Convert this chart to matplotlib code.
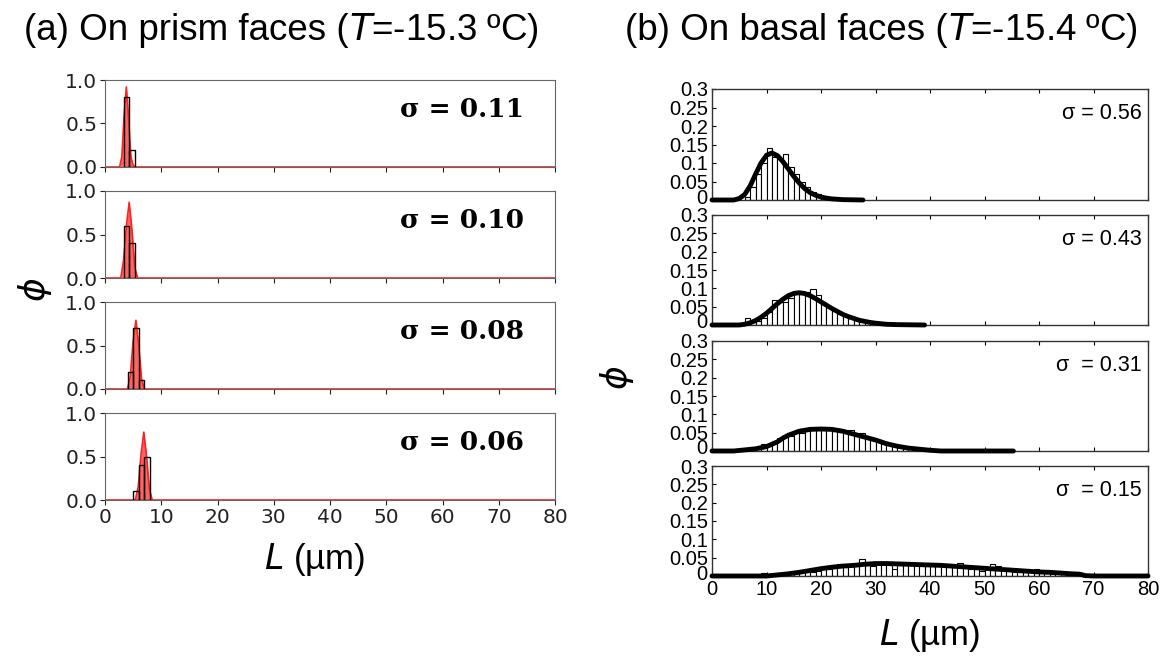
import matplotlib

matplotlib.use("Agg")
import matplotlib.pyplot as plt
import matplotlib.transforms as mtransforms
import numpy as np

# ---- (a) prism faces: histogram bins (left edge, height) and red fitted curves ----
prism_sigma = ["0.11", "0.10", "0.08", "0.06"]
prism_bin_left = [[3.3, 4.3], [3.3, 4.3], [4.0, 5.0, 6.0], [5.0, 6.0, 7.0]]
prism_bin_height = [[0.8, 0.2], [0.6, 0.4], [0.2, 0.7, 0.1], [0.1, 0.4, 0.5]]
prism_fit_x = [
    [0, 2.6, 3.0, 3.4, 3.8, 4.2, 4.6, 5.0, 5.4, 80],
    [0, 2.8, 3.3, 3.8, 4.3, 4.8, 5.3, 5.8, 80],
    [0, 4.0, 4.5, 5.0, 5.5, 6.0, 6.5, 7.0, 80],
    [0, 5.4, 5.9, 6.4, 6.9, 7.4, 7.9, 8.4, 80],
]
prism_fit_y = [
    [0, 0, 0.12, 0.6, 0.92, 0.55, 0.12, 0.02, 0, 0],
    [0, 0, 0.2, 0.6, 0.87, 0.55, 0.12, 0, 0],
    [0, 0, 0.15, 0.55, 0.79, 0.5, 0.12, 0, 0],
    [0, 0, 0.15, 0.52, 0.78, 0.5, 0.12, 0, 0],
]

# ---- (b) basal faces: 1-um histogram bins and black fitted curves ----
basal_sigma = ["\u03c3 = 0.56", "\u03c3 = 0.43", "\u03c3  = 0.31", "\u03c3  = 0.15"]
basal_bin_start = [6, 6, 5, 9]
basal_bin_height = [
    [0.008, 0.035, 0.07, 0.1, 0.14, 0.115, 0.113, 0.124, 0.09, 0.07, 0.05, 0.035,
     0.022, 0.015, 0.009, 0.006, 0.004],
    [0.02, 0.015, 0.012, 0.02, 0.035, 0.068, 0.064, 0.062, 0.075, 0.093, 0.085,
     0.09, 0.098, 0.083, 0.06, 0.05, 0.04, 0.03, 0.025, 0.02, 0.015, 0.012, 0.008,
     0.006, 0.005, 0.003, 0.002],
    [0.002, 0.003, 0.005, 0.01, 0.02, 0.015, 0.025, 0.035, 0.038, 0.042, 0.048,
     0.05, 0.055, 0.058, 0.058, 0.058, 0.057, 0.055, 0.052, 0.05, 0.057, 0.045,
     0.049, 0.035, 0.03, 0.025, 0.02, 0.018, 0.014, 0.012, 0.01, 0.008, 0.006,
     0.004, 0.003, 0.002],
    [0.008, 0.004, 0.003, 0.004, 0.004, 0.005, 0.007, 0.01, 0.017, 0.012, 0.015,
     0.018, 0.02, 0.022, 0.033, 0.025, 0.027, 0.028, 0.046, 0.03, 0.028, 0.034,
     0.032, 0.03, 0.02, 0.031, 0.03, 0.033, 0.03, 0.031, 0.03, 0.03, 0.028, 0.026,
     0.027, 0.026, 0.036, 0.025, 0.02, 0.018, 0.015, 0.02, 0.033, 0.028, 0.02,
     0.015, 0.012, 0.01, 0.012, 0.01, 0.02, 0.015, 0.008, 0.006, 0.007, 0.005,
     0.006, 0.004, 0.003],
]
basal_fit_x = [
    [0, 4, 5, 6, 7, 8, 9, 10, 11, 12, 13, 14, 15, 16, 17, 18, 19, 20, 21, 22, 24, 27.7],
    [0, 5, 6, 7, 8, 9, 10, 11, 12, 13, 14, 15, 16, 17, 18, 19, 20, 21, 22, 23, 24,
     25, 26, 27, 28, 29, 30, 32, 34, 39],
    [0, 4, 6, 8, 10, 12, 13, 14, 16, 18, 20, 22, 24, 26, 28, 30, 32, 34, 36, 38,
     40, 42, 55.3],
    [0, 10, 12, 14, 16, 18, 20, 22, 24, 26, 28, 30, 32, 34, 36, 38, 40, 42, 44, 46,
     48, 50, 52, 54, 56, 58, 60, 62, 64, 66, 67.5, 68.5, 70, 80],
]
basal_fit_y = [
    [0, 0, 0.004, 0.015, 0.038, 0.07, 0.1, 0.121, 0.127, 0.12, 0.104, 0.084, 0.064,
     0.046, 0.031, 0.02, 0.013, 0.008, 0.005, 0.003, 0.001, 0],
    [0, 0, 0.002, 0.006, 0.012, 0.021, 0.032, 0.045, 0.058, 0.07, 0.08, 0.086,
     0.088, 0.086, 0.08, 0.072, 0.063, 0.054, 0.045, 0.037, 0.029, 0.023, 0.018,
     0.013, 0.01, 0.007, 0.005, 0.002, 0.001, 0],
    [0, 0, 0.003, 0.006, 0.012, 0.025, 0.035, 0.043, 0.054, 0.059, 0.06, 0.059,
     0.054, 0.046, 0.038, 0.03, 0.02, 0.013, 0.008, 0.005, 0.002, 0, 0],
    [0, 0, 0.003, 0.006, 0.01, 0.015, 0.02, 0.024, 0.027, 0.029, 0.032, 0.034,
     0.034, 0.033, 0.032, 0.031, 0.03, 0.029, 0.027, 0.025, 0.023, 0.021, 0.019,
     0.017, 0.015, 0.013, 0.011, 0.01, 0.008, 0.006, 0.005, 0.001, 0, 0],
]

x_ticks = [0, 10, 20, 30, 40, 50, 60, 70, 80]

fig = plt.figure(figsize=(11.63, 6.59), dpi=100)
W, H = 1163, 659


def px_axes(x0, y_top, x1, y_bot):
    return fig.add_axes([x0 / W, 1 - y_bot / H, (x1 - x0) / W, (y_bot - y_top) / H])


# ---------------- panel (a) ----------------
prism_rows = [(80, 167), (191, 278), (302, 389), (413, 500)]
for i, (top, bot) in enumerate(prism_rows):
    ax = px_axes(105, top, 555, bot)
    ax.fill_between(prism_fit_x[i], prism_fit_y[i], color="#ff3030", alpha=0.75, lw=0)
    ax.plot(prism_fit_x[i], prism_fit_y[i], color="#ff2020", lw=1.2)
    ax.bar(prism_bin_left[i], prism_bin_height[i], width=1.0, align="edge",
           facecolor="none", edgecolor="black", lw=1.0, zorder=3)
    ax.set_xlim(0, 80)
    ax.set_ylim(0, 1.0)
    ax.set_yticks([0, 0.5, 1.0])
    ax.set_yticklabels(["0.0", "0.5", "1.0"])
    ax.set_xticks(x_ticks)
    ax.tick_params(labelsize=14.5, length=3.5, width=0.8, colors="#222", pad=2)
    if i < 3:
        ax.set_xticklabels([])
    for sp in ax.spines.values():
        sp.set_color("#666")
        sp.set_linewidth(0.8)
    ax.text(0.93, 0.66, "\u03c3 = " + prism_sigma[i], transform=ax.transAxes,
            ha="right", va="center", fontsize=19, fontweight="bold",
            family="DejaVu Serif")

fig.text(349 / W, 1 - 30 / H, "(a) On prism faces (", ha="right", va="center",
         fontsize=26.5, family="Liberation Sans")
fig.text(349 / W, 1 - 30 / H, "$T$=-15.3 \u00baC)", ha="left", va="center",
         fontsize=26.5, family="Liberation Sans")
fig.text(35 / W, 1 - 290 / H, "$\\phi$", ha="center", va="center", fontsize=26,
         rotation=90)
fig.text(315 / W, 1 - 560 / H, "$L$ (\u00b5m)", ha="center", va="center",
         fontsize=25, family="Liberation Sans")

# ---------------- panel (b) ----------------
basal_rows = [(89, 200), (215, 325), (341, 451), (466, 576)]
for i, (top, bot) in enumerate(basal_rows):
    ax = px_axes(712, top, 1148, bot)
    heights = basal_bin_height[i]
    lefts = np.arange(basal_bin_start[i], basal_bin_start[i] + len(heights))
    ax.bar(lefts, heights, width=1.0, align="edge", facecolor="white",
           edgecolor="black", lw=0.8, zorder=2)
    ax.plot(basal_fit_x[i], basal_fit_y[i], color="black", lw=3.5, zorder=3,
            solid_capstyle="round", clip_on=False)
    ax.set_xlim(0, 80)
    ax.set_ylim(0, 0.3)
    ax.set_yticks([0, 0.05, 0.1, 0.15, 0.2, 0.25, 0.3])
    ax.set_yticklabels(["0", "0.05", "0.1", "0.15", "0.2", "0.25", "0.3"])
    ax.set_xticks(x_ticks)
    ax.tick_params(direction="in", top=True, length=3, width=0.8, labelsize=14.5,
                   pad=3)
    for lab in ax.get_xticklabels() + ax.get_yticklabels():
        lab.set_family("Liberation Sans")
    # the "0" label sits a little above the baseline, as in the original
    zero_lab = ax.get_yticklabels()[0]
    zero_lab.set_transform(zero_lab.get_transform() + mtransforms.ScaledTranslation(
        0, 4 / 100, fig.dpi_scale_trans))
    if i < 3:
        ax.set_xticklabels([])
    for sp in ax.spines.values():
        sp.set_color("#333")
        sp.set_linewidth(1.0)
    ax.text(0.985, 0.78, basal_sigma[i], transform=ax.transAxes, ha="right",
            va="center", fontsize=15.5, family="Liberation Sans")

fig.text(948 / W, 1 - 30 / H, "(b) On basal faces (", ha="right", va="center",
         fontsize=26.5, family="Liberation Sans")
fig.text(948 / W, 1 - 30 / H, "$T$=-15.4 \u00baC)", ha="left", va="center",
         fontsize=26.5, family="Liberation Sans")
fig.text(617 / W, 1 - 378 / H, "$\\phi$", ha="center", va="center", fontsize=26,
         rotation=90)
fig.text(930 / W, 1 - 635 / H, "$L$ (\u00b5m)", ha="center", va="center",
         fontsize=25, family="Liberation Sans")

fig.savefig("out.png", dpi=100)
